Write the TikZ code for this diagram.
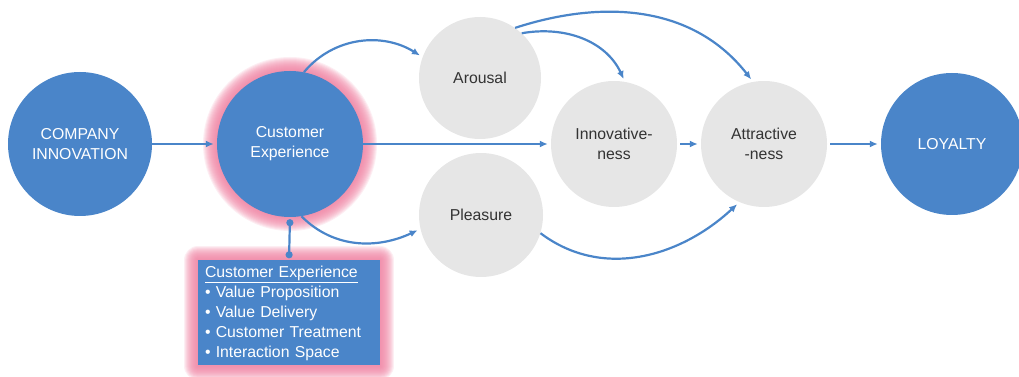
\documentclass[tikz,border=0pt]{standalone}
\usepackage{fontspec}
\setmainfont{Liberation Sans}
\usetikzlibrary{arrows.meta, backgrounds}
\definecolor{boxblue}{HTML}{4A85C9}
\definecolor{lightgrey}{HTML}{E6E6E6}
\definecolor{glowpink}{HTML}{EF7FA0}
\definecolor{darktext}{HTML}{333333}

\begin{document}
\begin{tikzpicture}[x=1pt, y=1pt]
				\tikzstyle{bluecirc}=[circle, fill=boxblue, text=white, align=center, inner sep=0pt, font=\fontsize{15.8}{20}\selectfont]
				\tikzstyle{greycirc}=[circle, fill=lightgrey, text=darktext, align=center, inner sep=0pt, font=\fontsize{15.8}{20}\selectfont]
				\tikzstyle{glowline}=[glowpink, line join=round, draw opacity=0.13]
				\tikzstyle{flow}=[-{Latex[length=8pt,width=7pt]}, line width=2.2pt, boxblue, shorten >=3pt]
				%frame
				\useasboundingbox (0,0) rectangle (1019,377);
				%%% LEFT SIDE %%%
				%company circle
				\node[bluecirc, minimum size=144pt] (comp) at (80,233) {COMPANY\\INNOVATION};
				%customer experience circle
				\node[bluecirc, minimum size=146pt] (cx) at (290,233) {Customer\\Experience};
				%customer experience list
				\node[fill=boxblue, text=white, align=left, text width=168pt, inner xsep=7pt, inner ysep=0pt,
				minimum height=105pt, font=\fontsize{15.8}{20}\selectfont] (cxbox) at (289,64) {\underline{Customer Experience}\\
				\textbullet\ Value Proposition\\
				\textbullet\ Value Delivery\\
				\textbullet\ Customer Treatment\\
				\textbullet\ Interaction Space};
				%pink glow behind circle and list
				\begin{pgfonlayer}{background}
				\foreach \w in {2,4,...,28}{
				\draw[glowline, line width=\w pt] (cx.center) circle (73pt);
				\draw[glowline, line width=\w pt] (cxbox.south west) rectangle (cxbox.north east);
				}
				\end{pgfonlayer}
				%%% MIDDLE %%%
				\node[greycirc, minimum size=122pt] (aro) at (480,299) {Arousal};
				\node[greycirc, minimum size=124pt] (ple) at (481,162) {Pleasure};
				\node[greycirc, minimum size=126pt] (inn) at (614,233) {Innovative-\\ness};
				\node[greycirc, minimum size=126pt] (att) at (764,233) {Attractive\\-ness};
				%%% RIGHT SIDE %%%
				\node[bluecirc, minimum size=142pt] (loy) at (952,233) {LOYALTY};
				%straight arrows
				\draw[flow] (comp) -- (cx);
				\draw[flow] (cx) -- (inn);
				\draw[flow, shorten <=3pt] (inn) -- (att);
				\draw[flow, shorten <=3pt] (att) -- (loy);
				%link to the list
				\draw[{Circle[length=7pt]}-{Circle[length=7pt]}, line width=2.2pt, boxblue, shorten <=2pt, shorten >=2pt] (cx.south) -- (cxbox.north);
				%curved arrows
				\draw[flow] (cx.79) to[out=50, in=148] (aro.160);
				\draw[flow] (cx.-81) to[out=-45, in=205] (ple.193);
				\draw[flow] (aro.47) to[out=10, in=115] (inn.80);
				\draw[flow] (aro.55) to[out=18, in=128] (att.100);
				\draw[flow] (ple.-17) to[out=-37, in=223] (att.247);
\end{tikzpicture}
\end{document}
